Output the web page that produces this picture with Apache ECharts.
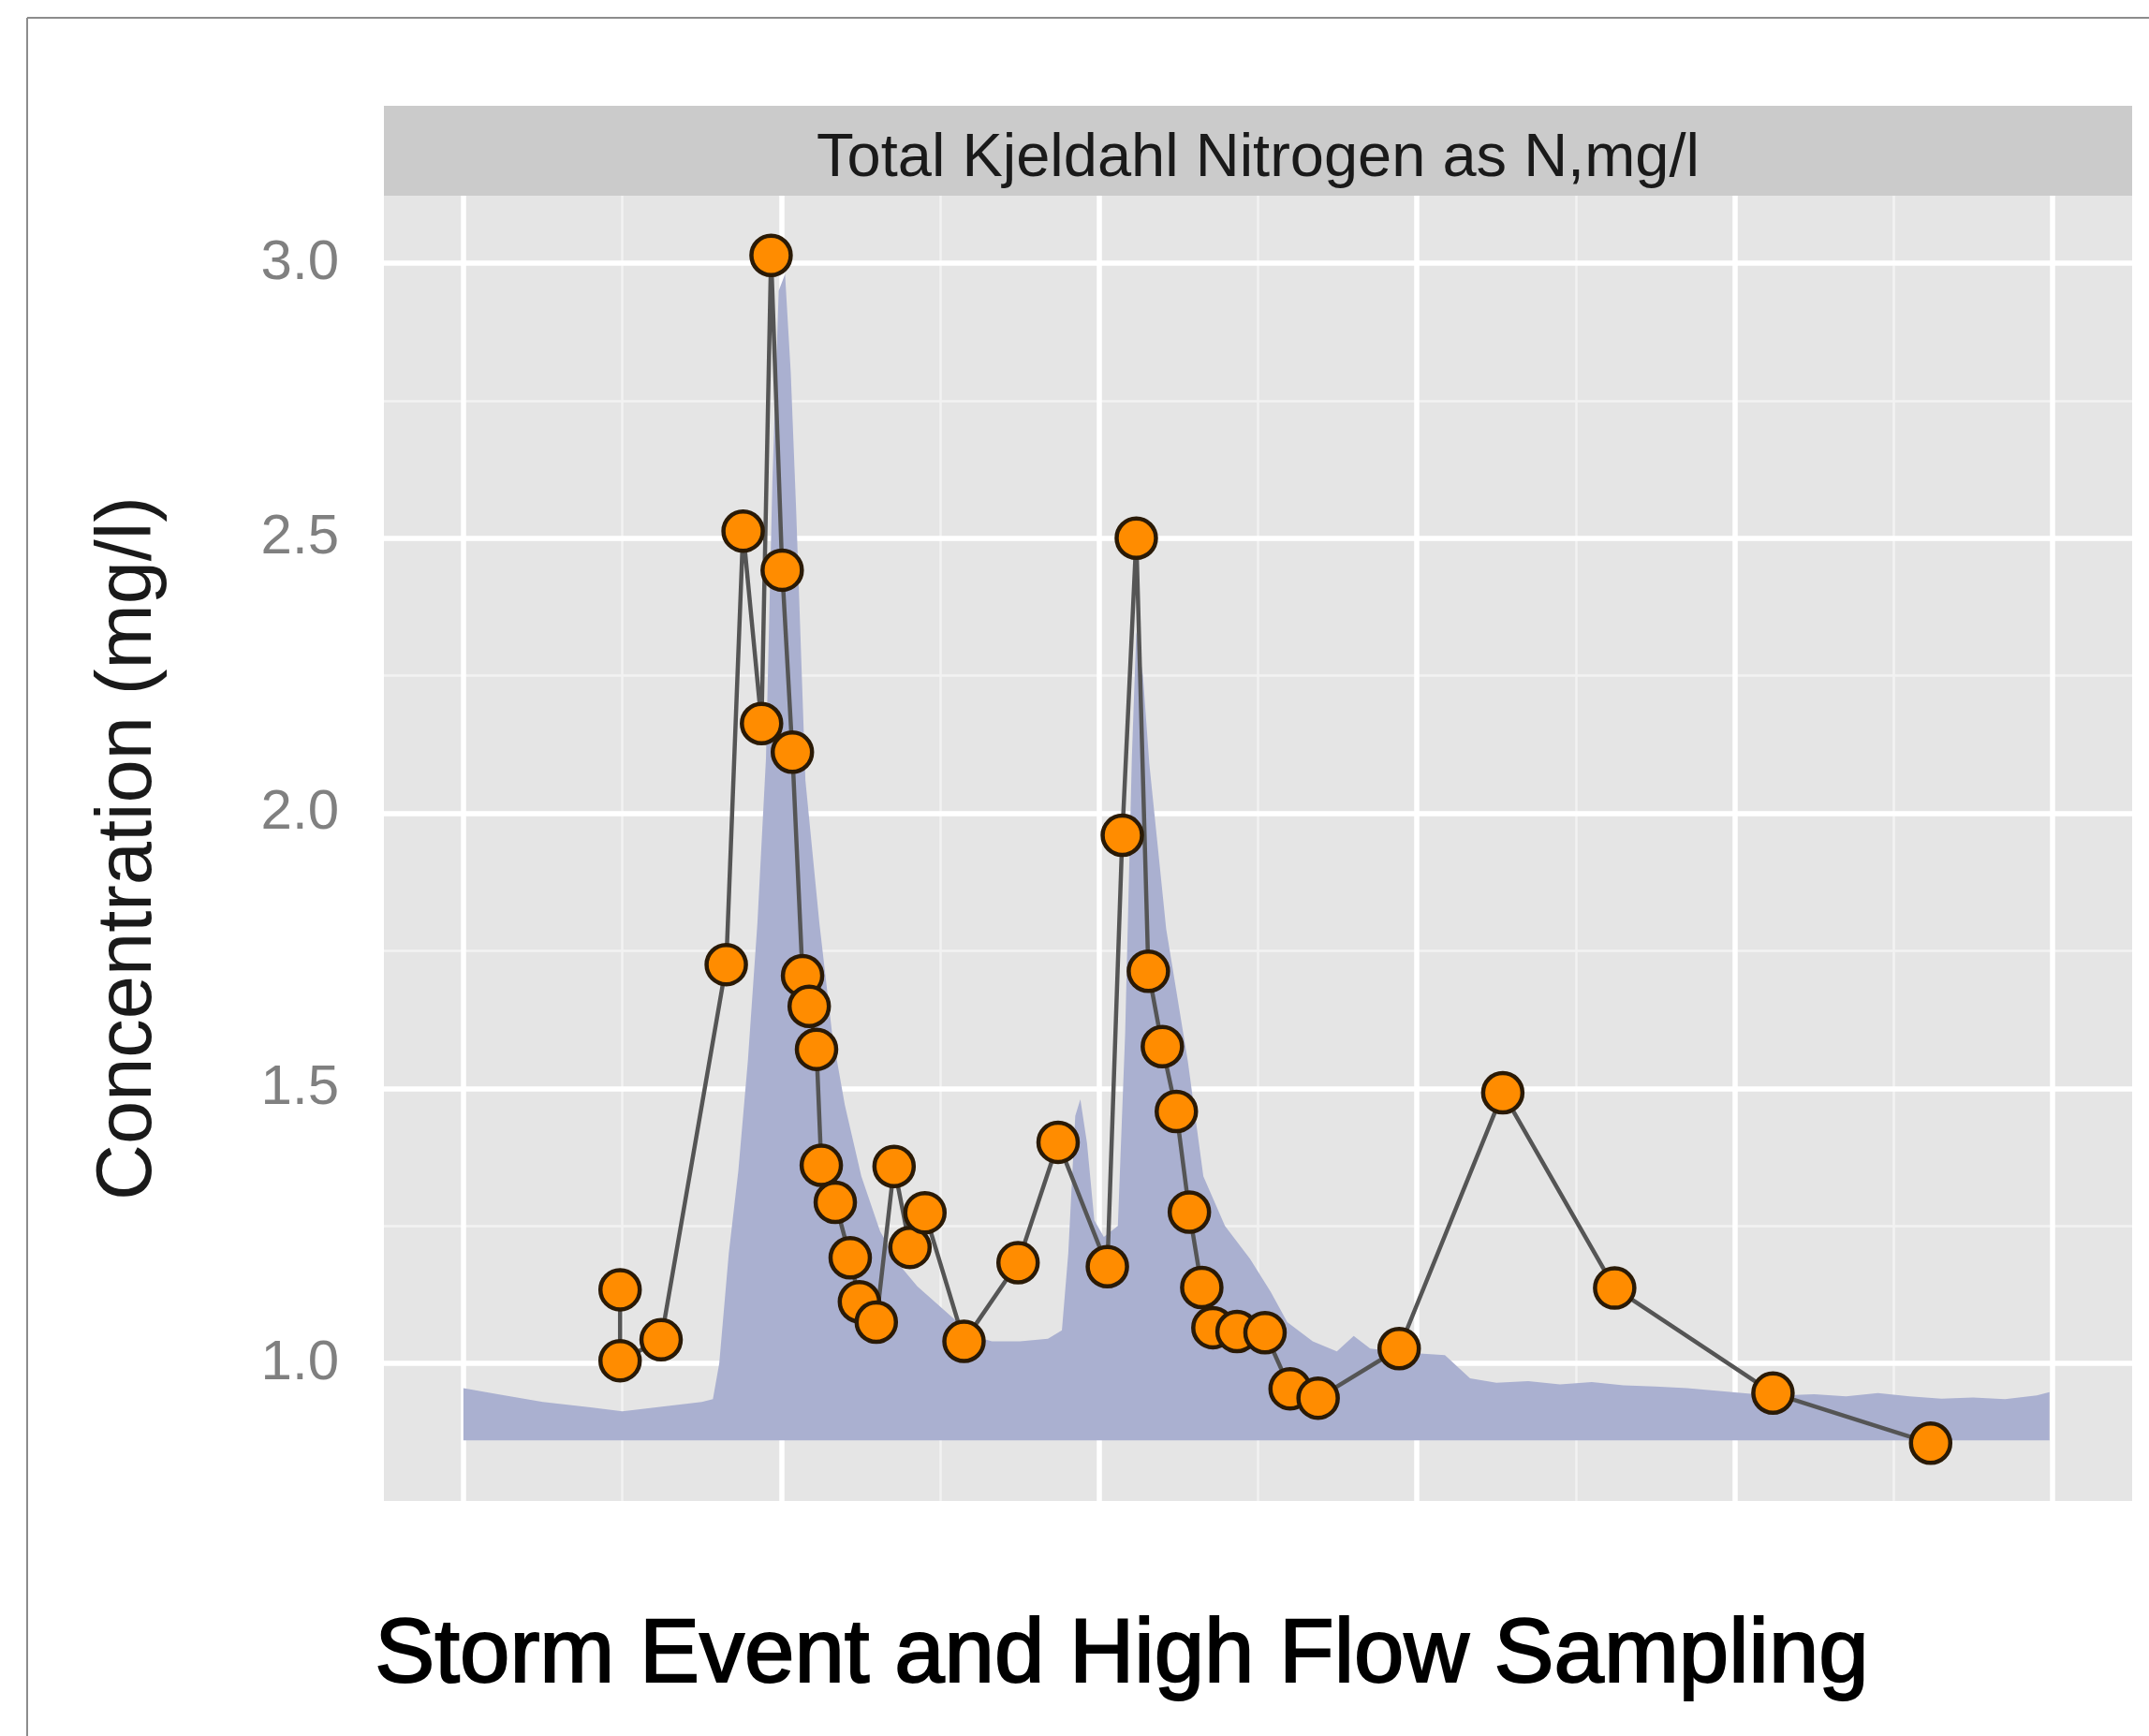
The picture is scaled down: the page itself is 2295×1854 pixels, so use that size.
<!DOCTYPE html>
<html>
<head>
<meta charset="utf-8">
<script src="https://cdn.jsdelivr.net/npm/echarts@6/dist/echarts.min.js"></script>
<style>
html,body{margin:0;padding:0;background:#fff;}
#chart{width:2295px;height:1854px;}
</style>
</head>
<body>
<div id="chart"></div>
<script>
// ---- data ----
const stripTitle = 'Total Kjeldahl Nitrogen as N,mg/l';
const mainTitle = 'Storm Event and High Flow Sampling';
const yAxisTitle = 'Concentration (mg/l)';

// background flow (scaled) ribbon: x position, top value; ribbon base value
const flowBase = 0.86;
const flowX = [0.00,0.10,0.25,0.40,0.50,0.65,0.75,0.785,0.805,0.835,0.865,0.895,0.925,0.952,0.972,0.992,1.012,1.030,1.047,1.076,1.120,1.160,1.200,1.252,1.311,1.370,1.428,1.487,1.545,1.604,1.663,1.751,1.839,1.883,1.903,1.925,1.941,1.962,1.985,2.015,2.059,2.082,2.103,2.117,2.138,2.158,2.211,2.279,2.328,2.396,2.475,2.540,2.592,2.672,2.748,2.801,2.853,2.953,3.088,3.167,3.25,3.35,3.45,3.55,3.65,3.75,3.85,3.95,4.05,4.15,4.25,4.35,4.45,4.55,4.65,4.75,4.85,4.95,4.99];
const flowTop = [0.955,0.945,0.930,0.920,0.913,0.923,0.930,0.935,1.00,1.20,1.35,1.55,1.80,2.10,2.60,2.95,2.98,2.80,2.55,2.06,1.80,1.60,1.47,1.34,1.24,1.18,1.14,1.11,1.08,1.05,1.04,1.04,1.045,1.06,1.20,1.45,1.48,1.40,1.26,1.23,1.25,1.60,2.10,2.33,2.25,2.09,1.79,1.55,1.34,1.25,1.19,1.13,1.075,1.04,1.022,1.05,1.027,1.02,1.015,0.973,0.965,0.968,0.962,0.966,0.960,0.958,0.955,0.950,0.945,0.942,0.944,0.940,0.946,0.940,0.936,0.938,0.935,0.942,0.948];

// TKN samples
const sampleX = [0.493,0.493,0.622,0.827,0.880,0.938,0.968,1.003,1.035,1.067,1.088,1.111,1.126,1.170,1.217,1.246,1.299,1.355,1.405,1.452,1.575,1.745,1.871,2.026,2.073,2.117,2.155,2.199,2.243,2.284,2.323,2.358,2.434,2.522,2.601,2.689,2.944,3.270,3.622,4.120,4.616];
const tkn = [1.134,1.005,1.043,1.725,2.513,2.163,3.014,2.442,2.111,1.705,1.649,1.571,1.360,1.293,1.192,1.112,1.075,1.358,1.211,1.274,1.040,1.183,1.402,1.176,1.960,2.500,1.713,1.576,1.458,1.275,1.138,1.065,1.058,1.056,0.954,0.937,1.027,1.492,1.137,0.946,0.855];

// axes / grid
const yTicks = [1.0,1.5,2.0,2.5,3.0];
const yMinor = [1.25,1.75,2.25,2.75];
const xMajor = [0,1,2,3,4,5];
const xMinor = [0.5,1.5,2.5,3.5,4.5];
const xRange = [-0.25, 5.25];
const yRange = [0.75, 3.1226];

// ---- chart ----
const chart = echarts.init(document.getElementById('chart'), null, {renderer:'canvas'});
const P = {left:410, top:209, width:1867, height:1394};

const gridMarks = []
  .concat(xMinor.map(v => ({xAxis:v, lineStyle:{color:'#F2F2F2', width:2.5, type:'solid'}})))
  .concat(yMinor.map(v => ({yAxis:v, lineStyle:{color:'#F2F2F2', width:2.5, type:'solid'}})))
  .concat(xMajor.map(v => ({xAxis:v, lineStyle:{color:'#FFFFFF', width:5.5, type:'solid'}})))
  .concat(yTicks.map(v => ({yAxis:v, lineStyle:{color:'#FFFFFF', width:5.5, type:'solid'}})));

chart.setOption({
  animation:false,
  backgroundColor:'#ffffff',
  title:{
    text:mainTitle, left:1198, top:1722, textAlign:'center', padding:0,
    textStyle:{fontFamily:'Liberation Sans, Arial, sans-serif', fontSize:96, fontWeight:'normal', color:'#000',
      textBorderColor:'#000', textBorderWidth:2}
  },
  grid:{left:P.left, top:P.top, width:P.width, height:P.height, show:true, backgroundColor:'#E5E5E5', borderWidth:0, containLabel:false},
  xAxis:{type:'value', min:xRange[0], max:xRange[1], show:true,
    axisLine:{show:false}, axisTick:{show:false}, axisLabel:{show:false}, splitLine:{show:false}},
  yAxis:{type:'value', min:yRange[0], max:yRange[1],
    name:yAxisTitle, nameLocation:'middle', nameGap:230, nameRotate:90,
    nameTextStyle:{fontFamily:'Liberation Sans, Arial, sans-serif', fontSize:83, color:'#1a1a1a'},
    axisLine:{show:false},
    axisTick:{show:true, length:24, customValues:yTicks, lineStyle:{color:'#7F7F7F', width:3}},
    axisLabel:{show:true, customValues:yTicks, margin:48, fontFamily:'Liberation Sans, Arial, sans-serif', fontSize:60, color:'#808080',
      formatter: v => Number(v).toFixed(1)},
    splitLine:{show:false}},
  graphic:[
    {type:'rect', shape:{x:P.left, y:113, width:P.width, height:96}, style:{fill:'#CBCBCB'}, z:-1, silent:true},
    {type:'text', x:P.left + P.width/2, y:170, style:{text:stripTitle, align:'center', verticalAlign:'middle',
      font:'65px "Liberation Sans", Arial, sans-serif', fill:'#1a1a1a'}, silent:true},
    {type:'line', shape:{x1:29, y1:19, x2:2295, y2:19}, style:{stroke:'#8c8c8c', lineWidth:2}, silent:true},
    {type:'line', shape:{x1:29, y1:19, x2:29, y2:1854}, style:{stroke:'#8c8c8c', lineWidth:2}, silent:true}
  ],
  series:[
    {type:'line', name:'grid', data:[], silent:true, z:1,
      markLine:{silent:true, symbol:'none', label:{show:false}, z:1, animation:false, data:gridMarks}},
    {type:'line', name:'flow', z:2, silent:true, showSymbol:false, symbol:'none',
      data:flowX.map((x,i)=>[x, flowTop[i]]),
      lineStyle:{width:0, opacity:0},
      areaStyle:{color:'#AAB0D0', opacity:1, origin:flowBase}},
    {type:'line', name:'TKN', z:3,
      data:sampleX.map((x,i)=>[x, tkn[i]]),
      lineStyle:{color:'#555555', width:4.5},
      symbol:'circle', symbolSize:42, showSymbol:true,
      itemStyle:{color:'#FF8C00', borderColor:'#2a1a06', borderWidth:4.5}}
  ]
});
</script>
</body>
</html>
